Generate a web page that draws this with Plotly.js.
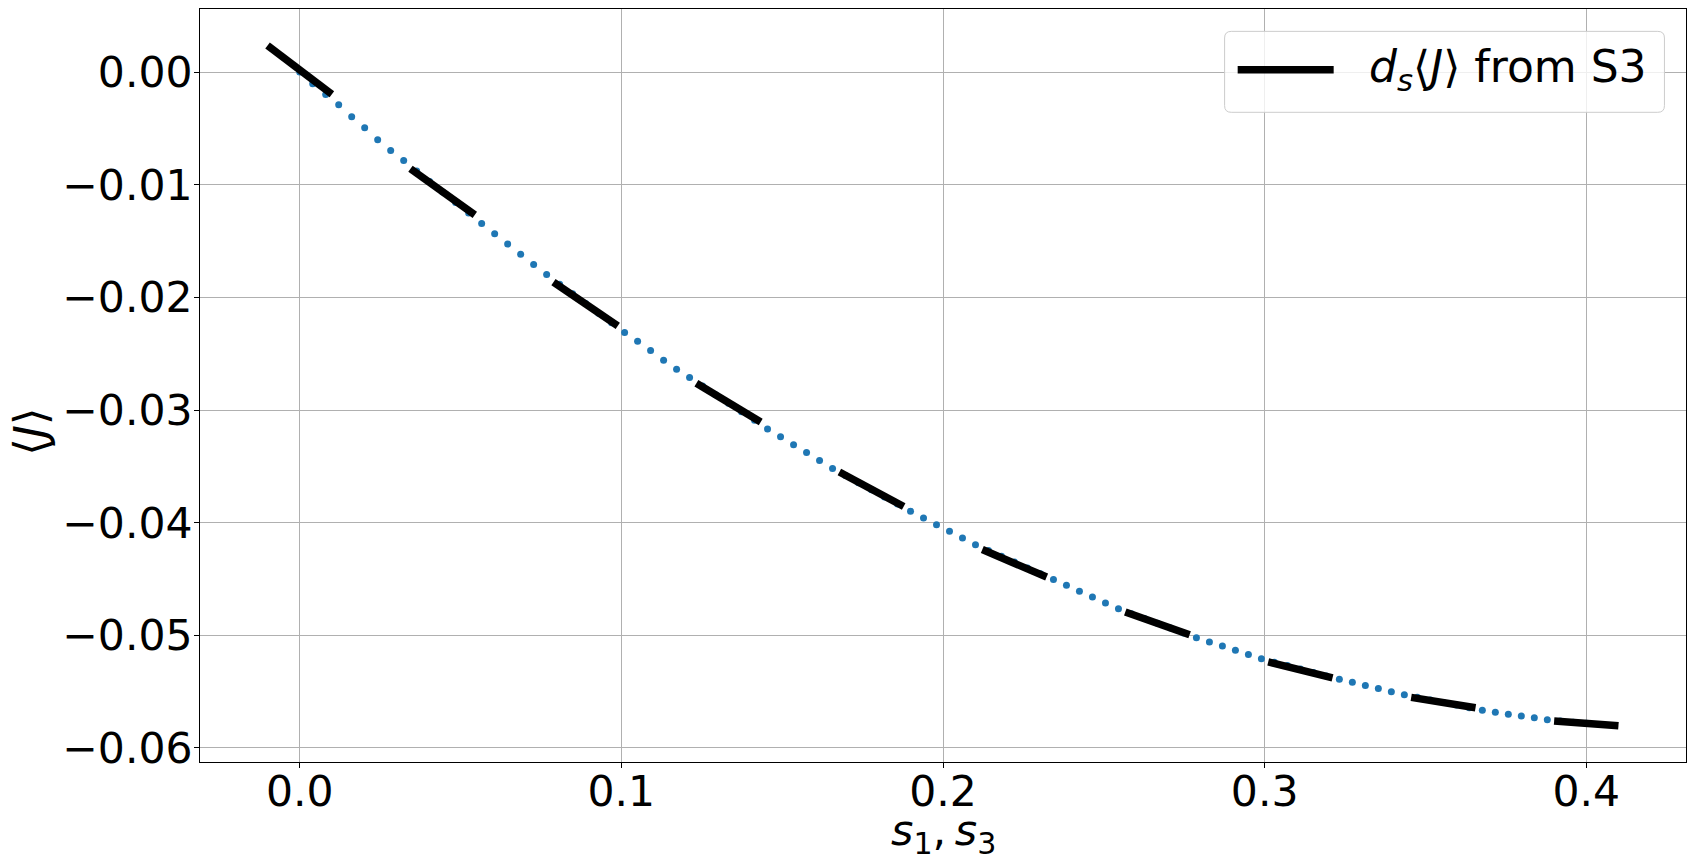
<!DOCTYPE html>
<html>
<head>
<meta charset="utf-8">
<script src="https://cdn.plot.ly/plotly-3.0.1.min.js"></script>
<style>
  html, body { margin: 0; padding: 0; background: white; }
  #chart { width: 1694px; height: 862px; }
</style>
</head>
<body>
<div id="chart"></div>
<script>
// <J> sampled on s1 = s3 grid (blue dots)
const sVals = [
  0, 0.00404, 0.00808, 0.01212, 0.01616, 0.02020, 0.02424, 0.02828, 0.03232, 0.03636,
  0.04040, 0.04444, 0.04848, 0.05253, 0.05657, 0.06061, 0.06465, 0.06869, 0.07273, 0.07677,
  0.08081, 0.08485, 0.08889, 0.09293, 0.09697, 0.10101, 0.10505, 0.10909, 0.11313, 0.11717,
  0.12121, 0.12525, 0.12929, 0.13333, 0.13737, 0.14141, 0.14545, 0.14949, 0.15354, 0.15758,
  0.16162, 0.16566, 0.16970, 0.17374, 0.17778, 0.18182, 0.18586, 0.18990, 0.19394, 0.19798,
  0.20202, 0.20606, 0.21010, 0.21414, 0.21818, 0.22222, 0.22626, 0.23030, 0.23434, 0.23838,
  0.24242, 0.24646, 0.25051, 0.25455, 0.25859, 0.26263, 0.26667, 0.27071, 0.27475, 0.27879,
  0.28283, 0.28687, 0.29091, 0.29495, 0.29899, 0.30303, 0.30707, 0.31111, 0.31515, 0.31919,
  0.32323, 0.32727, 0.33131, 0.33535, 0.33939, 0.34343, 0.34747, 0.35152, 0.35556, 0.35960,
  0.36364, 0.36768, 0.37172, 0.37576, 0.37980, 0.38384, 0.38788, 0.39192, 0.39596, 0.40000
];
const jVals = [
  0, -0.00103, -0.00198, -0.00289, -0.00396, -0.00494, -0.00600, -0.00697, -0.00785, -0.00878,
  -0.00971, -0.01064, -0.01157, -0.01250, -0.01345, -0.01436, -0.01527, -0.01617, -0.01708, -0.01798,
  -0.01884, -0.01969, -0.02055, -0.02141, -0.02226, -0.02312, -0.02390, -0.02472, -0.02558, -0.02638,
  -0.02712, -0.02788, -0.02864, -0.02940, -0.03016, -0.03092, -0.03168, -0.03238, -0.03308, -0.03378,
  -0.03448, -0.03519, -0.03582, -0.03645, -0.03708, -0.03772, -0.03835, -0.03898, -0.03958, -0.04018,
  -0.04077, -0.04137, -0.04197, -0.04248, -0.04299, -0.04350, -0.04402, -0.04453, -0.04504, -0.04556,
  -0.04610, -0.04660, -0.04714, -0.04765, -0.04808, -0.04851, -0.04894, -0.04936, -0.04979, -0.05022,
  -0.05059, -0.05096, -0.05134, -0.05171, -0.05208, -0.05239, -0.05269, -0.05300, -0.05330, -0.05361,
  -0.05391, -0.05418, -0.05446, -0.05473, -0.05501, -0.05528, -0.05551, -0.05574, -0.05597, -0.05620,
  -0.05643, -0.05666, -0.05683, -0.05700, -0.05716, -0.05733, -0.05750, -0.05761, -0.05772, -0.05782
];

// tangent pieces, d_s<J> from S3 (start / end of each short segment)
const segX0 = [-0.01, 0.03444, 0.07889, 0.12333, 0.16778, 0.21222, 0.25667, 0.30111, 0.34556, 0.39];
const segX1 = [0.01, 0.05444, 0.09889, 0.14333, 0.18778, 0.23222, 0.27667, 0.32111, 0.36556, 0.41];
const segY0 = [0.00236, -0.00858, -0.01864, -0.02763, -0.03551, -0.04239, -0.04793, -0.05237, -0.05551, -0.05760];
const segY1 = [-0.00196, -0.01268, -0.02254, -0.03107, -0.03857, -0.04483, -0.04995, -0.05378, -0.05643, -0.05804];

const xTicks = [0, 0.1, 0.2, 0.3, 0.4];
const yTicks = [0, -0.01, -0.02, -0.03, -0.04, -0.05, -0.06];

const FONT = "DejaVu Sans, sans-serif";
const FS = 42.5;

// join the segments into one trace, split by nulls
const lineX = [];
const lineY = [];
segX0.forEach((x0, i) => {
  lineX.push(x0, segX1[i], null);
  lineY.push(segY0[i], segY1[i], null);
});

const traces = [
  {
    type: "scatter",
    mode: "markers",
    x: sVals,
    y: jVals,
    marker: { color: "#1f77b4", size: 7 },
    showlegend: false,
    hoverinfo: "skip"
  },
  {
    type: "scatter",
    mode: "lines",
    x: lineX,
    y: lineY,
    name: "d_s<J> from S3",
    line: { color: "black", width: 7.5 },
    connectgaps: false,
    showlegend: false,
    hoverinfo: "skip"
  }
];

// legend box drawn by hand (matplotlib style, rounded frame)
const bx0 = 0.6895, bx1 = 0.9855, by0 = 0.8628, by1 = 0.9703;
const rx = 0.0045, ry = 0.0088;
const boxPath =
  `M${bx0 + rx},${by1} L${bx1 - rx},${by1} Q${bx1},${by1} ${bx1},${by1 - ry} ` +
  `L${bx1},${by0 + ry} Q${bx1},${by0} ${bx1 - rx},${by0} ` +
  `L${bx0 + rx},${by0} Q${bx0},${by0} ${bx0},${by0 + ry} ` +
  `L${bx0},${by1 - ry} Q${bx0},${by1} ${bx0 + rx},${by1} Z`;

function axisBase(ticks, fmt, standoff) {
  return {
    tickvals: ticks,
    tickformat: fmt,
    ticks: "outside",
    ticklen: 5,
    tickwidth: 1,
    tickcolor: "black",
    ticklabelstandoff: standoff,
    showgrid: true,
    gridcolor: "#b0b0b0",
    gridwidth: 1,
    zeroline: false,
    showline: true,
    linecolor: "black",
    linewidth: 1,
    mirror: true,
    tickfont: { family: FONT, size: FS, color: "black" }
  };
}

const layout = {
  width: 1694,
  height: 862,
  margin: { l: 200, r: 8, t: 9, b: 100 },
  paper_bgcolor: "white",
  plot_bgcolor: "white",
  font: { family: FONT, size: FS, color: "black" },
  showlegend: false,
  xaxis: { ...axisBase(xTicks, ".1f", -13), range: [-0.031, 0.431] },
  yaxis: { ...axisBase(yTicks, ".2f", -7), range: [-0.06125, 0.0056] },
  shapes: [
    {
      type: "path",
      xref: "paper",
      yref: "paper",
      path: boxPath,
      fillcolor: "rgba(255,255,255,0.8)",
      line: { color: "#cccccc", width: 1 }
    },
    {
      type: "line",
      xref: "paper",
      yref: "paper",
      x0: 0.6983,
      x1: 0.7629,
      y0: 0.9194,
      y1: 0.9194,
      line: { color: "black", width: 7.5 }
    }
  ],
  annotations: [
    {
      xref: "paper",
      yref: "paper",
      x: 0.7851,
      y: 0.9194,
      xanchor: "left",
      yanchor: "middle",
      showarrow: false,
      text: "<i>d<sub>s</sub></i>⟨<i>J</i>⟩ from S3",
      font: { family: FONT, size: 44, color: "black" }
    },
    {
      xref: "paper",
      yref: "paper",
      x: 0.5,
      y: -0.094,
      xanchor: "center",
      yanchor: "middle",
      showarrow: false,
      text: "<i>s</i><sub>1</sub>,\u2009<i>s</i><sub>3</sub>",
      font: { family: FONT, size: 43, color: "black" }
    },
    {
      xref: "paper",
      yref: "paper",
      x: -0.114,
      y: 0.438,
      xanchor: "center",
      yanchor: "middle",
      textangle: -90,
      showarrow: false,
      text: "⟨<i>J</i>⟩",
      font: { family: FONT, size: 45, color: "black" }
    }
  ]
};

Plotly.newPlot("chart", traces, layout, { displayModeBar: false, responsive: false });
</script>
</body>
</html>
